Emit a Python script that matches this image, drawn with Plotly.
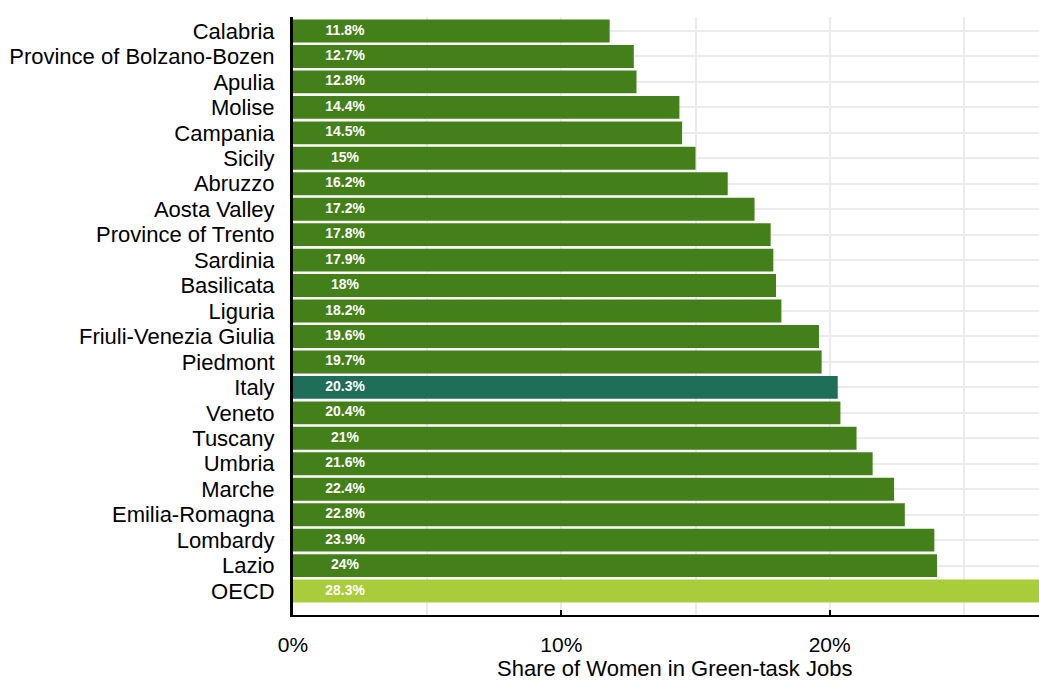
import plotly.graph_objects as go

regions = ["Calabria", "Province of Bolzano-Bozen", "Apulia", "Molise", "Campania",
           "Sicily", "Abruzzo", "Aosta Valley", "Province of Trento", "Sardinia",
           "Basilicata", "Liguria", "Friuli-Venezia Giulia", "Piedmont", "Italy",
           "Veneto", "Tuscany", "Umbria", "Marche", "Emilia-Romagna", "Lombardy",
           "Lazio", "OECD"]
shares = [11.8, 12.7, 12.8, 14.4, 14.5, 15.0, 16.2, 17.2, 17.8, 17.9, 18.0, 18.2,
          19.6, 19.7, 20.3, 20.4, 21.0, 21.6, 22.4, 22.8, 23.9, 24.0, 28.3]
labels = ["11.8%", "12.7%", "12.8%", "14.4%", "14.5%", "15%", "16.2%", "17.2%",
          "17.8%", "17.9%", "18%", "18.2%", "19.6%", "19.7%", "20.3%", "20.4%",
          "21%", "21.6%", "22.4%", "22.8%", "23.9%", "24%", "28.3%"]
x_ticks = [0, 10, 20]
x_tick_labels = ["0%", "10%", "20%"]
x_title = "Share of Women in Green-task Jobs"

REGION = "#44801A"
ITALY = "#1F6E5A"
OECD = "#A9CD3A"
colors = [ITALY if r == "Italy" else OECD if r == "OECD" else REGION for r in regions]

FONT = "Liberation Sans Narrow, Arial Narrow, Liberation Sans, Arial, sans-serif"

fig = go.Figure()
fig.add_trace(go.Bar(
    y=regions, x=shares, orientation="h",
    marker=dict(color=colors, line=dict(width=0)),
    hoverinfo="x+y", showlegend=False,
))
fig.add_trace(go.Scatter(
    y=regions, x=[1.94] * len(regions), mode="text", text=labels,
    textfont=dict(family="Liberation Sans, Arial, sans-serif", size=14, color="white", weight="bold"),
    textposition="middle center", hoverinfo="skip", showlegend=False,
))

fig.update_layout(
    width=1039, height=681,
    margin=dict(l=293, r=0, t=17, b=66),
    paper_bgcolor="white", plot_bgcolor="white",
    bargap=0.1,
    font=dict(family=FONT, size=20, color="black"),
    xaxis=dict(
        range=[0, 27.8],
        tickvals=x_ticks, ticktext=x_tick_labels,
        ticks="inside", ticklen=5, tickwidth=2, tickcolor="black",
        showline=True, linecolor="black", linewidth=2,
        showgrid=True, gridcolor="#ebebeb", gridwidth=2,
        minor=dict(dtick=5, tick0=0, showgrid=True, gridcolor="#ebebeb", gridwidth=2, ticks=""),
        zeroline=False,
        tickfont=dict(size=21),
        ticklabelstandoff=10,
    ),
    yaxis=dict(
        type="category",
        range=[22.94, -0.55],
        tickmode="array", tickvals=regions, ticktext=regions,
        showline=True, linecolor="black", linewidth=3,
        showgrid=True, gridcolor="#ebebeb", gridwidth=2,
        ticks="", ticklabelstandoff=11,
        tickfont=dict(size=22),
        zeroline=False,
    ),
    annotations=[dict(
        text=x_title, xref="paper", yref="paper", x=0.512, y=0,
        yshift=-53, xanchor="center", yanchor="middle", showarrow=False,
        font=dict(size=22),
    )],
)

fig.write_html(
    "out.html",
    config={"displayModeBar": False},
    post_script="document.body.style.margin='0';document.body.style.overflow='hidden';",
)
